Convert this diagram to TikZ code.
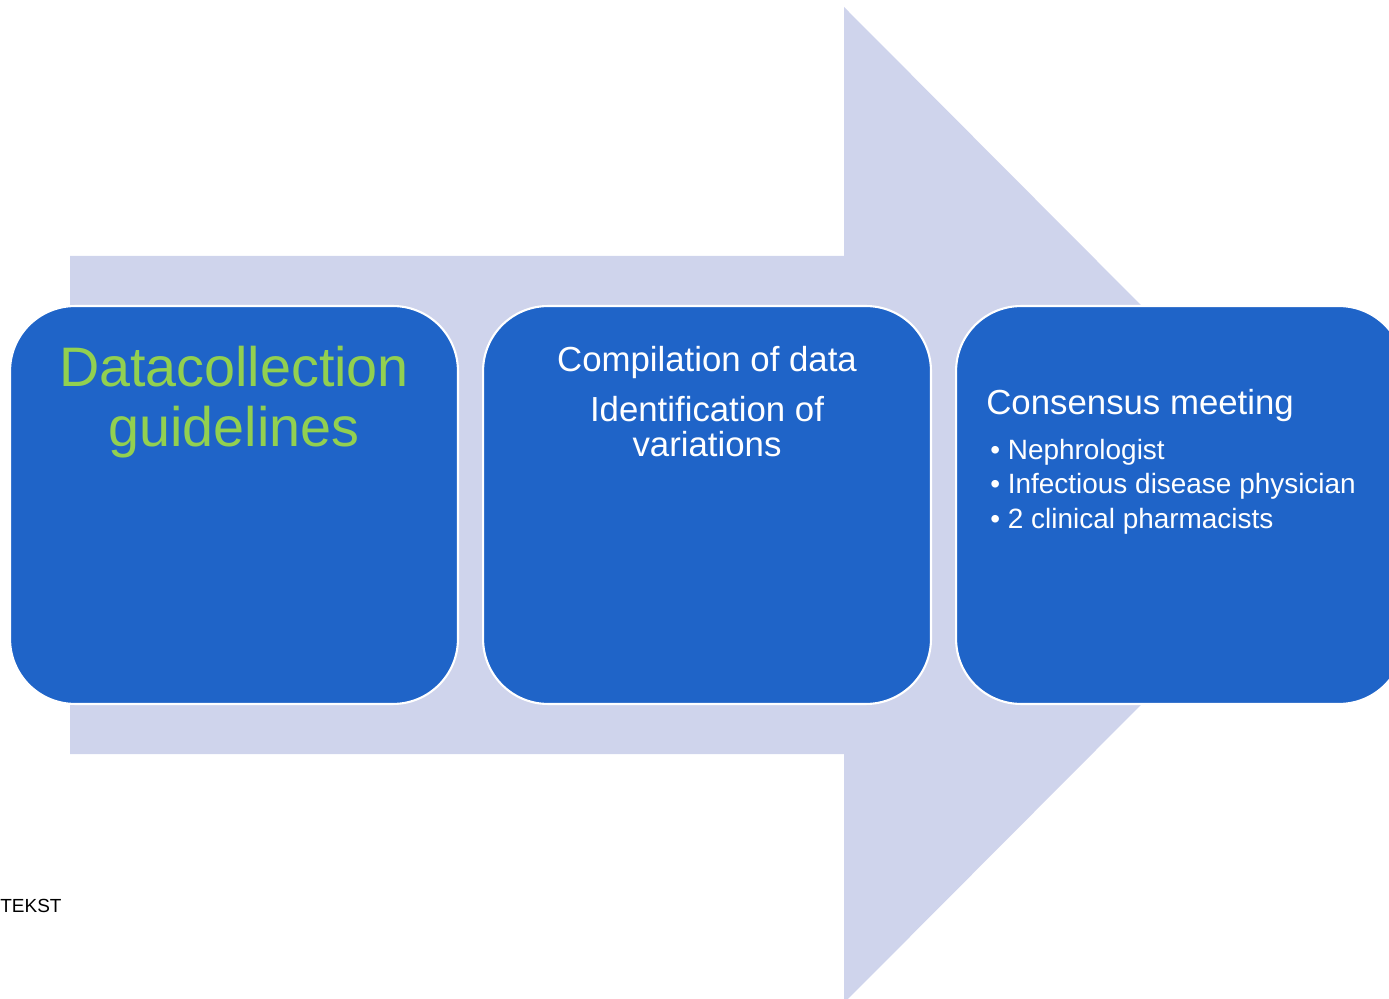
\documentclass[tikz,border=0pt]{standalone}
\usepackage{fontspec}
\setmainfont{Liberation Sans}
\usepackage{xcolor}
\usetikzlibrary{positioning}

\definecolor{stageblue}{HTML}{1F64C8}
\definecolor{flowlav}{HTML}{CFD4EC}
\definecolor{leafgreen}{HTML}{92D050}

\begin{document}
\begin{tikzpicture}[
 x=0.02cm, y=-0.02cm, node distance=0pt,
 stage/.style={rectangle, rounded corners=1.3cm, fill=stageblue, draw=white,
 line width=1.2pt, minimum width=8.96cm, minimum height=7.96cm, inner sep=0pt},
 big/.style={inner sep=0pt, align=center, text=leafgreen,
 font=\fontsize{31.7}{34.2}\selectfont},
 mid/.style={inner sep=0pt, align=center, text=white,
 font=\fontsize{19.8}{20.3}\selectfont},
 small/.style={inner sep=0pt, align=left, text=white,
 font=\fontsize{15.9}{19.8}\selectfont},
]
\useasboundingbox (0,0) rectangle (1389,999);
% big flow arrow behind the stages
\fill[flowlav] (70,256) -- (844,256) -- (844,7) -- (1340,505)
 -- (844,1003) -- (844,754) -- (70,754) -- cycle;
% the three stages
\node[stage] (dc) at (234,505) {};
\node[stage, right=0.46cm of dc] (cmp) {};
\node[stage, right=0.46cm of cmp] (cns) {};
\node[big, below=0.82cm of dc.north] (dctxt) {Datacollection\\guidelines};
\node[mid, below=0.82cm of cmp.north] (cmptxt)
 {Compilation of data\\[8pt]Identification of\\variations};
\node[mid, below right=1.68cm and 0.62cm of cns.north west] (cnstxt) {Consensus meeting};
\node[small, below right=0.33cm and 0.08cm of cnstxt.south west] (cnslist)
 {\textbullet\ Nephrologist\\\textbullet\ Infectious disease physician\\\textbullet\ 2 clinical pharmacists};
\node[anchor=base west, inner sep=0pt, font=\fontsize{10.8}{13}\selectfont] (tekst) at (0,912) {TEKST};
\end{tikzpicture}
\end{document}
